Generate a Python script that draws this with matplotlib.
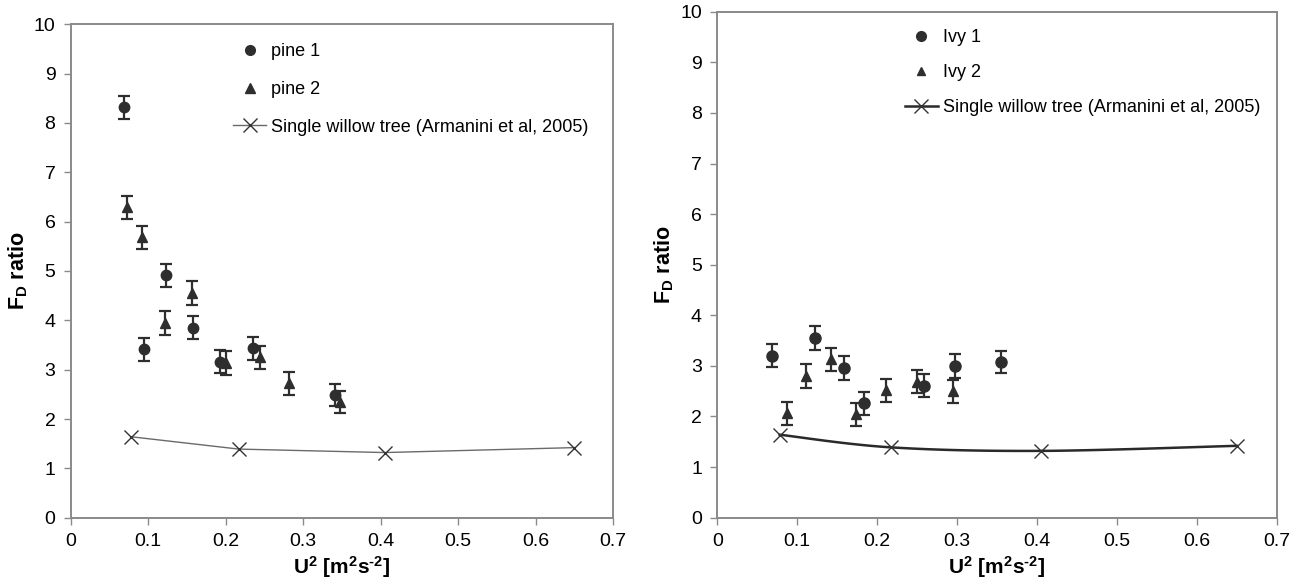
import numpy as np
import matplotlib
matplotlib.use("Agg")
import matplotlib.pyplot as plt
from matplotlib.lines import Line2D

plt.rcParams['font.family'] = ['Liberation Sans', 'DejaVu Sans']
plt.rcParams['mathtext.fontset'] = 'custom'
plt.rcParams['mathtext.rm'] = 'Liberation Sans:bold'
plt.rcParams['mathtext.it'] = 'Liberation Sans:bold'
plt.rcParams['mathtext.bf'] = 'Liberation Sans:bold'
plt.rcParams['mathtext.default'] = 'bf'

# ---- data: left panel (pine) ----
pine1_x = [0.069, 0.094, 0.123, 0.158, 0.193, 0.235, 0.341]
pine1_y = [8.32, 3.41, 4.91, 3.85, 3.16, 3.43, 2.49]
pine1_err = [0.23, 0.23, 0.23, 0.23, 0.23, 0.23, 0.22]

pine2_x = [0.073, 0.092, 0.122, 0.157, 0.200, 0.244, 0.282, 0.347]
pine2_y = [6.29, 5.68, 3.94, 4.55, 3.14, 3.25, 2.72, 2.35]
pine2_err = [0.24, 0.23, 0.24, 0.24, 0.24, 0.23, 0.23, 0.22]

# ---- data: right panel (ivy) ----
ivy1_x = [0.069, 0.122, 0.158, 0.184, 0.259, 0.297, 0.355]
ivy1_y = [3.20, 3.55, 2.96, 2.26, 2.61, 3.00, 3.08]
ivy1_err = [0.23, 0.23, 0.23, 0.23, 0.22, 0.23, 0.22]

ivy2_x = [0.087, 0.111, 0.142, 0.174, 0.211, 0.250, 0.295]
ivy2_y = [2.06, 2.80, 3.13, 2.04, 2.52, 2.69, 2.50]
ivy2_err = [0.23, 0.23, 0.23, 0.23, 0.23, 0.23, 0.23]

# ---- Armanini et al. 2005 willow ----
willow_x = [0.078, 0.217, 0.405, 0.650]
willow_y = [1.64, 1.39, 1.32, 1.42]

x_ticks = [0, 0.1, 0.2, 0.3, 0.4, 0.5, 0.6, 0.7]
x_ticklabels = ['0', '0.1', '0.2', '0.3', '0.4', '0.5', '0.6', '0.7']
y_ticks = list(range(0, 11))

DARK = '#2e2e2e'
SPINE = '#8a8a8a'


def catmull_rom(xs, ys, n=40):
    xs = np.asarray(xs, float); ys = np.asarray(ys, float)
    P = np.column_stack([xs, ys])
    P = np.vstack([P[0], P, P[-1]])
    out = []
    for i in range(1, len(P) - 2):
        p0, p1, p2, p3 = P[i - 1], P[i], P[i + 1], P[i + 2]
        t = np.linspace(0, 1, n)[:, None]
        pt = 0.5 * ((2 * p1) + (-p0 + p2) * t + (2 * p0 - 5 * p1 + 4 * p2 - p3) * t ** 2
                    + (-p0 + 3 * p1 - 3 * p2 + p3) * t ** 3)
        out.append(pt)
    out = np.vstack(out)
    return out[:, 0], out[:, 1]


def style_axes(ax):
    ax.set_xlim(0, 0.7)
    ax.set_ylim(0, 10)
    ax.set_xticks(x_ticks)
    ax.set_xticklabels(x_ticklabels)
    ax.set_yticks(y_ticks)
    for s in ax.spines.values():
        s.set_color(SPINE)
        s.set_linewidth(1.4)
    ax.tick_params(direction='out', length=5, width=1.0, color=SPINE,
                   labelsize=14, labelcolor='black', pad=6)
    ax.set_xlabel(r'U$^{2}$ [m$^{2}$s$^{\text{-}2}$]', fontsize=15, fontweight='bold', labelpad=3)
    ax.set_ylabel(r'F$_{D}$ ratio', fontsize=15.5, fontweight='bold', labelpad=3)


fig = plt.figure(figsize=(12.98, 5.86), dpi=100)
axL = fig.add_axes([0.0545, 0.1166, 0.4178, 0.8419])
axR = fig.add_axes([0.5526, 0.1166, 0.4310, 0.8634])

ekw = dict(ecolor=DARK, elinewidth=1.6, capsize=4, capthick=1.6, linestyle='none')

# Left
axL.errorbar(pine1_x, pine1_y, yerr=pine1_err, fmt='o', color=DARK, markersize=7.5, **ekw)
axL.errorbar(pine2_x, pine2_y, yerr=pine2_err, fmt='^', color=DARK, markersize=7.5, **ekw)
axL.plot(willow_x, willow_y, color='#6a6a6a', linewidth=1.0, marker='x',
         markersize=10, markeredgewidth=1.0, markeredgecolor='#333333')
style_axes(axL)

handlesL = [
    Line2D([], [], marker='o', color=DARK, linestyle='none', markersize=7),
    Line2D([], [], marker='^', color=DARK, linestyle='none', markersize=7),
    Line2D([], [], marker='x', color='#6a6a6a', linewidth=1.0, markersize=10,
           markeredgecolor='#333333', markeredgewidth=1.0),
]
axL.legend(handlesL, ['pine 1', 'pine 2', 'Single willow tree (Armanini et al, 2005)'],
           loc='upper left', bbox_to_anchor=(0.265, 1.0), frameon=False, fontsize=13,
           handlelength=1.8, handletextpad=0.3, labelspacing=1.15, borderaxespad=0.65)

# Right
axR.errorbar(ivy1_x, ivy1_y, yerr=ivy1_err, fmt='o', color=DARK, markersize=8, **ekw)
axR.errorbar(ivy2_x, ivy2_y, yerr=ivy2_err, fmt='^', color=DARK, markersize=6.5, **ekw)
sx, sy = catmull_rom(willow_x, willow_y)
axR.plot(sx, sy, color='#2a2a2a', linewidth=1.8)
axR.plot(willow_x, willow_y, linestyle='none', marker='x', markersize=10,
         markeredgewidth=1.0, markeredgecolor='#333333')
style_axes(axR)

handlesR = [
    Line2D([], [], marker='o', color=DARK, linestyle='none', markersize=7),
    Line2D([], [], marker='^', color=DARK, linestyle='none', markersize=6),
    Line2D([], [], marker='x', color='#2a2a2a', linewidth=1.8, markersize=10,
           markeredgecolor='#333333', markeredgewidth=1.0),
]
axR.legend(handlesR, ['Ivy 1', 'Ivy 2', 'Single willow tree (Armanini et al, 2005)'],
           loc='upper left', bbox_to_anchor=(0.305, 1.0), frameon=False, fontsize=13,
           handlelength=1.8, handletextpad=0.3, labelspacing=1.0, borderaxespad=0.55)

fig.savefig('out.png', dpi=100)
